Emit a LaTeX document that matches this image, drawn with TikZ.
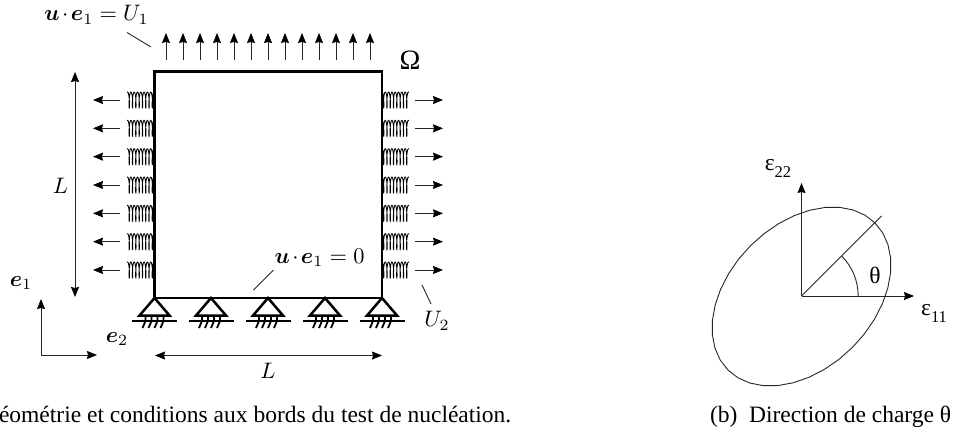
\documentclass[tikz,border=0pt]{standalone}
\usepackage{amsmath,amssymb,graphicx}
\usepackage[no-math]{fontspec}
\setmainfont{Liberation Serif}
\usetikzlibrary{arrows.meta,calc}
\newcommand{\mlab}[1]{\scalebox{2.24}{$#1$}}
\newcommand{\glab}[1]{\fontsize{23.5}{26}\selectfont #1}
\newcommand{\esub}[1]{ε\raisebox{-0.3em}{\fontsize{16.5}{18}\selectfont #1}}
\tikzset{
  every node/.style={inner sep=0pt,outer sep=0pt},
  thin line/.style={line width=0.9pt,black!85},
  arr/.style={thin line,-{Stealth[length=10pt,width=8pt,inset=1pt,black]}},
  darr/.style={thin line,{Stealth[length=10pt,width=8pt,inset=1pt,black]}-{Stealth[length=10pt,width=8pt,inset=1pt,black]}},
  wall/.style={line width=2.5pt,black,line cap=rect},
  springcoil/.style={line width=0.85pt,black},
  tri/.style={line width=2.5pt,black,line join=miter},
  ground/.style={line width=2.8pt,black},
  hatch/.style={line width=1.8pt,black},
  captext/.style={anchor=base west,font=\fontsize{23.5}{26}\selectfont}
}
\begin{document}
\begin{tikzpicture}[x=1pt,y=-1pt]
\useasboundingbox (0,0) rectangle (957,434);
% top arrows
\foreach \i in {0,...,12}{
  \coordinate (ta\i) at ({166+17*\i},60);
  \coordinate (tb\i) at ({166+17*\i},33);
  \draw[arr] (ta\i) -- (tb\i);
}
% side springs and arrows
\foreach \i in {0,...,6}{
  \pgfmathsetmacro{\yy}{100+28.33*\i}
  \coordinate (la\i) at (120,\yy);
  \coordinate (lt\i) at (93,\yy);
  \draw[springcoil] plot[smooth,samples=200,domain=0:2900,variable=\t] ({154-(3.3*\t/360+0.9*sin(\t))},{\yy-8*cos(\t)});
  \draw[arr] (la\i) -- (lt\i);
  \coordinate (ra\i) at (415,\yy);
  \coordinate (rt\i) at (443,\yy);
  \draw[springcoil] plot[smooth,samples=200,domain=0:2900,variable=\t] ({382+(3.3*\t/360+0.9*sin(\t))},{\yy-8*cos(\t)});
  \draw[arr] (ra\i) -- (rt\i);
}
% square
\coordinate (A) at (154.5,71.5);
\coordinate (B) at (382,71.5);
\coordinate (C) at (382,298);
\coordinate (D) at (154.5,298);
\draw[wall] (A) -- (B) -- (C) -- (D) -- cycle;
% supports
\foreach \x in {154.5,211,268,325,382}{
  \coordinate (ap) at (\x,298);
  \coordinate (bl) at (\x-15,315.5);
  \coordinate (br) at (\x+15,315.5);
  \coordinate (gl) at (\x-22.5,321);
  \coordinate (gr) at (\x+22.5,321);
  \draw[tri] (ap) -- (bl) -- (br) -- cycle;
  \draw[ground] (gl) -- (gr);
  \foreach \d in {-9,-3,3,9}{
    \coordinate (h1) at (\x+\d,316);
    \coordinate (h2) at (\x+\d,321);
    \coordinate (h3) at (\x+\d-3,328);
    \draw[hatch] (h1) -- (h2) -- (h3);
  }
}
% dimensions
\coordinate (v1) at (75,72);
\coordinate (v2) at (75,297);
\draw[darr] (v1) -- (v2);
\coordinate (h1) at (155,355.5);
\coordinate (h2) at (382,355.5);
\draw[darr] (h1) -- (h2);
\node (Lv) at (60.5,185.5) {\mlab{L}};
\node (Lh) at (268,371) {\mlab{L}};
% frame
\coordinate (O) at (41,355);
\coordinate (E1) at (41,299);
\coordinate (E2) at (97,355);
\draw[arr] (O) -- (E1);
\draw[arr] (O) -- (E2);
\node (e1) at (21,283) {\mlab{\boldsymbol{e}_1}};
\node (e2) at (117,339) {\mlab{\boldsymbol{e}_2}};
% labels with pointers
\node (Ulab) at (96.5,15) {\mlab{\boldsymbol{u}\mkern-2mu\cdot\mkern-2mu\boldsymbol{e}_1=U_1}};
\coordinate (p1) at (127,32.5);
\coordinate (p2) at (151,47);
\draw[thin line] (p1) -- (p2);
\node (Zlab) at (319.5,258) {\mlab{\boldsymbol{u}\mkern-2mu\cdot\mkern-2mu\boldsymbol{e}_1=0}};
\coordinate (p3) at (273.5,270);
\coordinate (p4) at (253.5,290);
\draw[thin line] (p3) -- (p4);
\node (U2lab) at (437,321) {\mlab{U_2}};
\coordinate (p5) at (422,285);
\coordinate (p6) at (431,304);
\draw[thin line] (p5) -- (p6);
\node[font=\fontsize{28}{30}\selectfont] (Omega) at (410,60) {Ω};
% caption a
\node[captext] (capa) at (-1,422.5) {éométrie et conditions aux bords du test de nucléation.};
% right diagram
\coordinate (P) at (801.5,296);
\coordinate (Px) at (914,296);
\coordinate (Py) at (801.5,183);
\coordinate (Pd) at (881.5,216);
\draw[thin line] plot[samples=37,domain=0:360] ({801.5+104*cos(\x)*cos(45)-72*sin(\x)*sin(45)},{296.5-104*cos(\x)*sin(45)-72*sin(\x)*cos(45)}) -- cycle;
\draw[arr] (P) -- (Px);
\draw[arr] (P) -- (Py);
\draw[thin line] (P) -- (Pd);
\draw[thin line] ($(P)+(56.7,0)$) arc[start angle=0,end angle=-45,radius=56.7];
\node (e22) at (778,168) {\glab{\esub{22}}};
\node (e11) at (934,313) {\glab{\esub{11}}};
\node (th) at (875,275) {\glab{θ}};
\node[captext] (capb) at (710,422.5) {(b)\ \ Direction de charge θ};
\end{tikzpicture}
\end{document}
